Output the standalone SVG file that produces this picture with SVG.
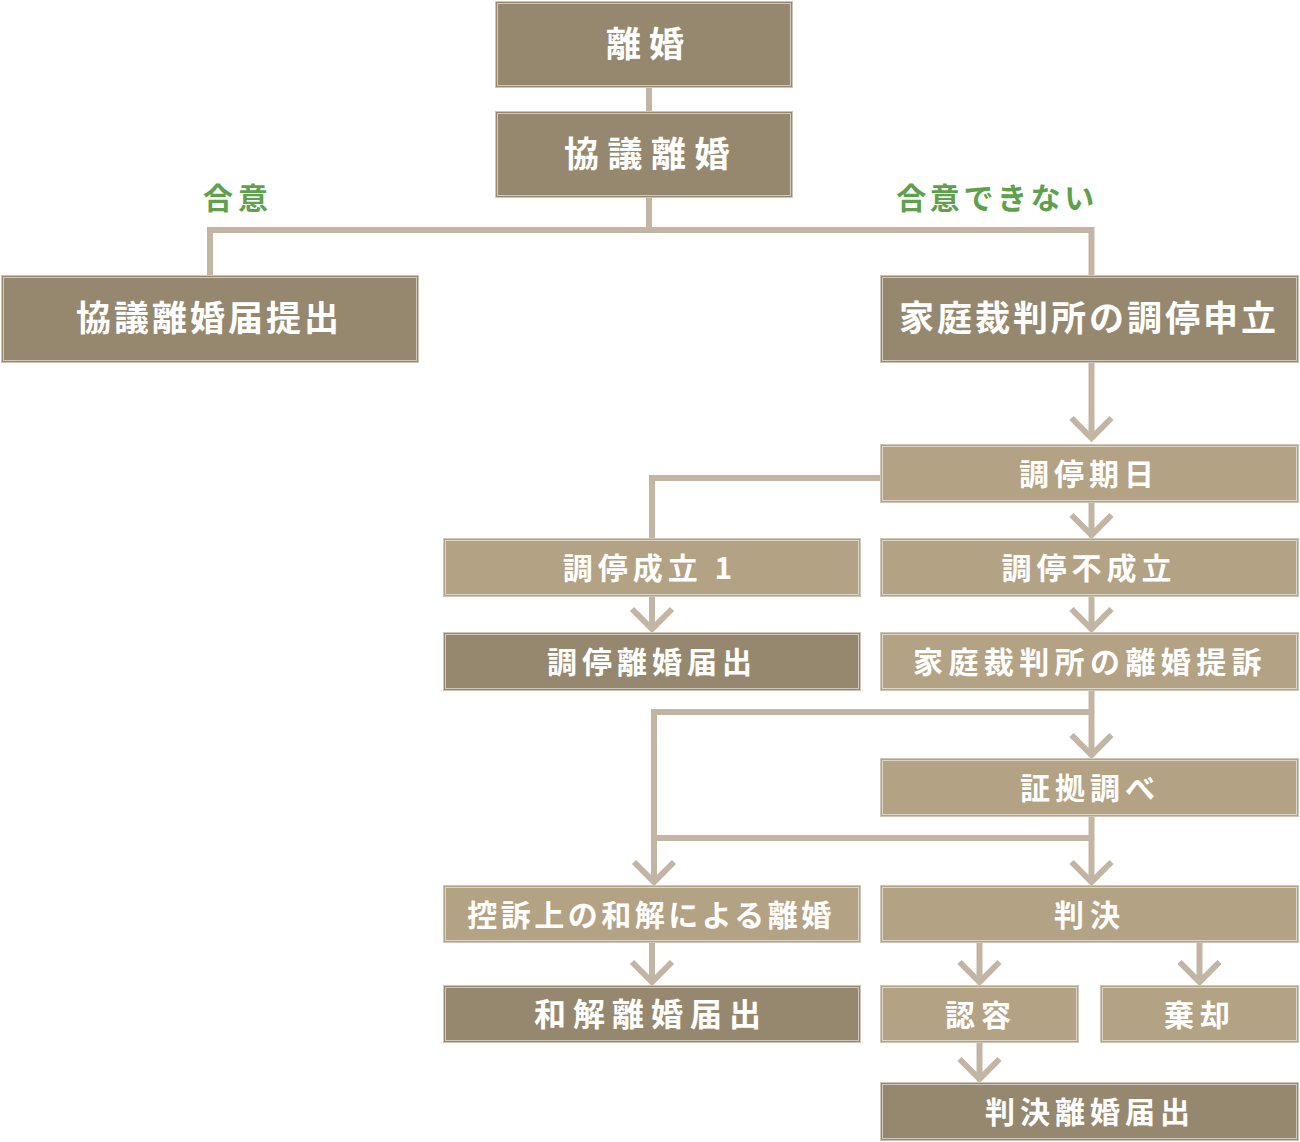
<svg xmlns="http://www.w3.org/2000/svg" width="1300" height="1142" viewBox="0 0 1300 1142">
<style>
.box rect.b{stroke:#cfc5b4;stroke-width:1}
.box rect.in{fill:none;stroke:#ffffff;stroke-opacity:0.55;stroke-width:1}
.dark rect.b{fill:#96886e}
.light rect.b{fill:#b3a283}
.box text{fill:#ffffff;font-family:"Noto Sans CJK JP","Noto Sans",sans-serif;font-weight:bold;text-anchor:middle}
.lbl{fill:#5ea04b;font-family:"Noto Sans CJK JP","Noto Sans",sans-serif;font-weight:bold;font-size:30px;text-anchor:middle}
#connectors path{fill:none;stroke:#c2b5a3;stroke-width:6}
</style>
<rect width="1300" height="1142" fill="#ffffff"/>
<g id="connectors">
<path d="M649,88 V111"/>
<path d="M649,198 V230"/>
<path d="M210,275 V230 H1091.5 V275"/>
<path d="M1091.5,363 V438"/>
<path d="M1071.5,418 L1091.5,438 L1111.5,418"/>
<path d="M880,478 H652 V538"/>
<path d="M1091.5,503 V535"/>
<path d="M1071.5,515 L1091.5,535 L1111.5,515"/>
<path d="M652,597 V629"/>
<path d="M632,609 L652,629 L672,609"/>
<path d="M1091.5,597 V629"/>
<path d="M1071.5,609 L1091.5,629 L1111.5,609"/>
<path d="M1091.5,691 V755"/>
<path d="M1071.5,735 L1091.5,755 L1111.5,735"/>
<path d="M1091.5,712 H654 V882"/>
<path d="M634,862 L654,882 L674,862"/>
<path d="M1091.5,817 V882"/>
<path d="M1071.5,862 L1091.5,882 L1111.5,862"/>
<path d="M654,838 H1091.5"/>
<path d="M652,943 V982"/>
<path d="M632,962 L652,982 L672,962"/>
<path d="M979.5,943 V982"/>
<path d="M959.5,962 L979.5,982 L999.5,962"/>
<path d="M1199.5,943 V982"/>
<path d="M1179.5,962 L1199.5,982 L1219.5,962"/>
<path d="M979.5,1043 V1079"/>
<path d="M959.5,1059 L979.5,1079 L999.5,1059"/>
</g>
<text class="lbl" x="238" y="209" letter-spacing="5">合意</text>
<text class="lbl" x="997" y="209" letter-spacing="3.6">合意できない</text>
<g id="n_rikon" class="box dark"><rect class="b" x="495.5" y="1.5" width="297" height="86"/><rect class="in" x="497.5" y="3.5" width="293" height="82"/><text x="649" y="57" font-size="35" letter-spacing="8">離婚</text></g>
<g id="n_kyogi" class="box dark"><rect class="b" x="495.5" y="111.5" width="297" height="86"/><rect class="in" x="497.5" y="113.5" width="293" height="82"/><text x="651" y="167" font-size="35" letter-spacing="8.5">協議離婚</text></g>
<g id="n_kyogi_todoke" class="box dark"><rect class="b" x="1.5" y="275.5" width="417" height="87"/><rect class="in" x="3.5" y="277.5" width="413" height="83"/><text x="209" y="331" font-size="35" letter-spacing="3">協議離婚届提出</text></g>
<g id="n_chotei_moushitate" class="box dark"><rect class="b" x="880.5" y="275.5" width="418" height="87"/><rect class="in" x="882.5" y="277.5" width="414" height="83"/><text x="1089" y="331" font-size="35" letter-spacing="3">家庭裁判所の調停申立</text></g>
<g id="n_chotei_kijitsu" class="box light"><rect class="b" x="880.5" y="444.5" width="418" height="58"/><rect class="in" x="882.5" y="446.5" width="414" height="54"/><text x="1089" y="485" font-size="30" letter-spacing="5">調停期日</text></g>
<g id="n_chotei_seiritsu" class="box light"><rect class="b" x="443.5" y="538.5" width="417" height="58"/><rect class="in" x="445.5" y="540.5" width="413" height="54"/><text x="650" y="579" font-size="30" letter-spacing="5">調停成立 1</text></g>
<g id="n_chotei_fuseiritsu" class="box light"><rect class="b" x="880.5" y="538.5" width="418" height="58"/><rect class="in" x="882.5" y="540.5" width="414" height="54"/><text x="1089" y="579" font-size="30" letter-spacing="5">調停不成立</text></g>
<g id="n_chotei_todoke" class="box dark"><rect class="b" x="443.5" y="632.5" width="417" height="58"/><rect class="in" x="445.5" y="634.5" width="413" height="54"/><text x="652" y="673" font-size="30" letter-spacing="5">調停離婚届出</text></g>
<g id="n_teiso" class="box light"><rect class="b" x="880.5" y="632.5" width="418" height="58"/><rect class="in" x="882.5" y="634.5" width="414" height="54"/><text x="1090" y="673" font-size="30" letter-spacing="5.4">家庭裁判所の離婚提訴</text></g>
<g id="n_shoko" class="box light"><rect class="b" x="880.5" y="758.5" width="418" height="58"/><rect class="in" x="882.5" y="760.5" width="414" height="54"/><text x="1090" y="799" font-size="30" letter-spacing="5">証拠調べ</text></g>
<g id="n_wakai" class="box light"><rect class="b" x="443.5" y="885.5" width="417" height="57"/><rect class="in" x="445.5" y="887.5" width="413" height="53"/><text x="651" y="926" font-size="30" letter-spacing="3.5">控訴上の和解による離婚</text></g>
<g id="n_hanketsu" class="box light"><rect class="b" x="880.5" y="885.5" width="418" height="57"/><rect class="in" x="882.5" y="887.5" width="414" height="53"/><text x="1090" y="926" font-size="30" letter-spacing="6">判決</text></g>
<g id="n_wakai_todoke" class="box dark"><rect class="b" x="443.5" y="985.5" width="417" height="57"/><rect class="in" x="445.5" y="987.5" width="413" height="53"/><text x="651" y="1026" font-size="32" letter-spacing="7">和解離婚届出</text></g>
<g id="n_ninyo" class="box light"><rect class="b" x="880.5" y="985.5" width="198" height="57"/><rect class="in" x="882.5" y="987.5" width="194" height="53"/><text x="981" y="1026" font-size="30" letter-spacing="6">認容</text></g>
<g id="n_kikyaku" class="box light"><rect class="b" x="1100.5" y="985.5" width="198" height="57"/><rect class="in" x="1102.5" y="987.5" width="194" height="53"/><text x="1200" y="1026" font-size="30" letter-spacing="6">棄却</text></g>
<g id="n_hanketsu_todoke" class="box dark"><rect class="b" x="880.5" y="1082.5" width="418" height="58"/><rect class="in" x="882.5" y="1084.5" width="414" height="54"/><text x="1090" y="1123" font-size="30" letter-spacing="5">判決離婚届出</text></g>
</svg>
